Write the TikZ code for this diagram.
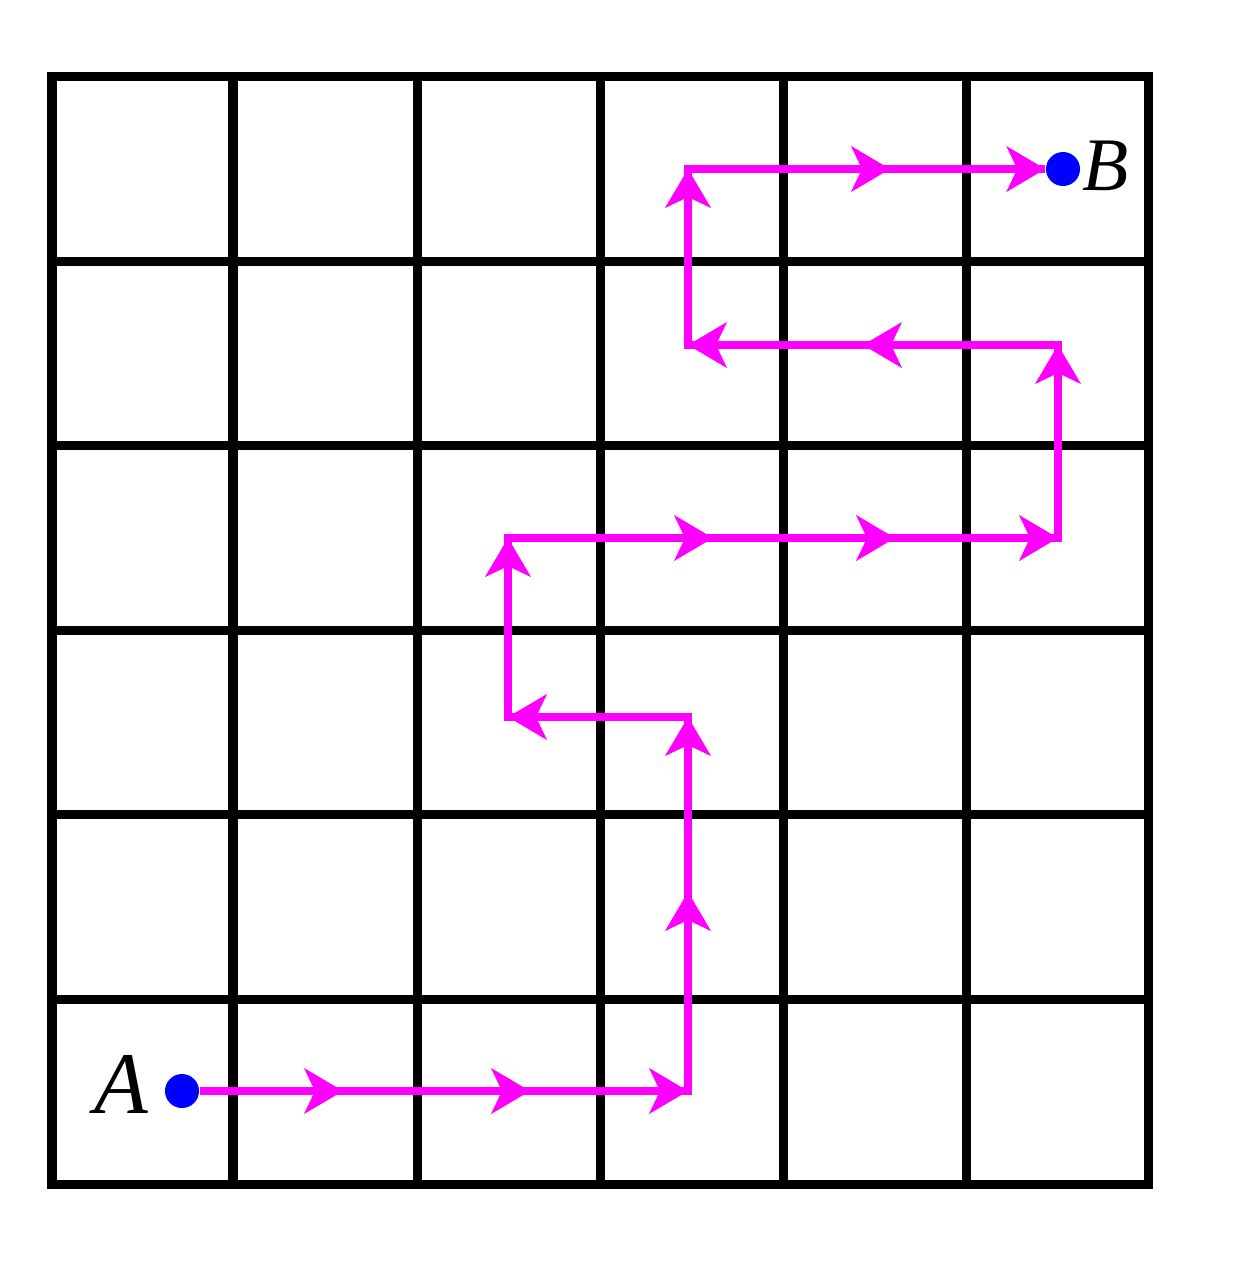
\documentclass[tikz,border=0pt]{standalone}
\usepackage{fontspec}
\setmainfont{Liberation Serif}
\usetikzlibrary{arrows.meta}
\definecolor{pathmag}{RGB}{255,0,255}
\definecolor{dotblue}{RGB}{0,0,255}
\begin{document}
\begin{tikzpicture}[x=0.01cm,y=-0.01cm,
  gridline/.style={line width=0.09cm, black},
  routeline/.style={line width=0.085cm, pathmag, line join=miter},
  routetip/.style={line width=0.085cm, pathmag, -{Stealth[length=0.39cm,width=0.46cm,inset=0.11cm,line width=0.5pt]}},
  dotnode/.style={circle, fill=dotblue, draw=none, minimum size=0.34cm, inner sep=0pt},
  labelA/.style={font=\fontsize{25}{30}\selectfont\itshape, inner sep=0pt},
  labelB/.style={font=\fontsize{21.5}{26}\selectfont\itshape, inner sep=0pt}]
\useasboundingbox (0,0) rectangle (1233,1275);
\fill[white] (0,0) rectangle (1233,1275);
% grid
\foreach \x in {233,417,600,783,966} \draw[gridline] (\x,76) -- (\x,1184);
\foreach \y in {261,445,630,814,999} \draw[gridline] (52,\y) -- (1148,\y);
\draw[gridline] (52,76) rectangle (1148,1184);
% points
\node[dotnode] (A) at (182,1091) {};
\node[dotnode] (B) at (1063,169) {};
\node[labelA] (Alab) at (121,1084) {A};
\node[labelB] (Blab) at (1106,166) {B};
\coordinate (a1) at (343,1091);
\coordinate (a2) at (530,1091);
\coordinate (c1) at (688,1091);
\coordinate (v1) at (688,892);
\coordinate (c2) at (688,717);
\coordinate (c3) at (508,717);
\coordinate (c4) at (508,538);
\coordinate (r1) at (713,538);
\coordinate (r2) at (895,538);
\coordinate (c5) at (1058,538);
\coordinate (c6) at (1058,345);
\coordinate (l1) at (863,345);
\coordinate (c7) at (688,345);
\coordinate (c8) at (688,169);
\coordinate (t1) at (890,169);
% route
\draw[routeline] (A) -- (c1) -- (c2) -- (c3) -- (c4) -- (c5) -- (c6) -- (c7) -- (c8) -- (B);
% arrowheads
\draw[routetip] (A) -- (a1);
\draw[routetip] (a1) -- (a2);
\draw[routetip] (a2) -- (c1);
\draw[routetip] (c1) -- (v1);
\draw[routetip] (v1) -- (c2);
\draw[routetip] (c2) -- (c3);
\draw[routetip] (c3) -- (c4);
\draw[routetip] (c4) -- (r1);
\draw[routetip] (r1) -- (r2);
\draw[routetip] (r2) -- (c5);
\draw[routetip] (c5) -- (c6);
\draw[routetip] (c6) -- (l1);
\draw[routetip] (l1) -- (c7);
\draw[routetip] (c7) -- (c8);
\draw[routetip] (c8) -- (t1);
\draw[routetip] (t1) -- (B);
\end{tikzpicture}
\end{document}
